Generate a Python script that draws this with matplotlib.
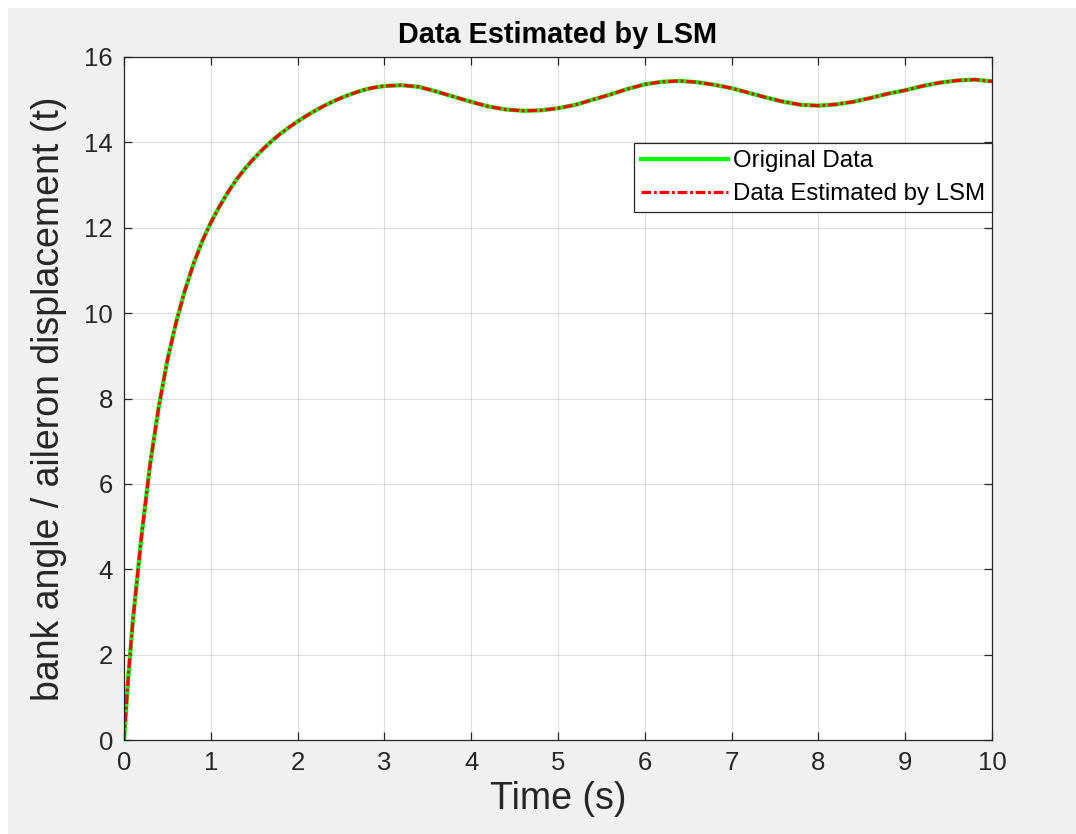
import matplotlib
matplotlib.use("Agg")
import matplotlib.pyplot as plt
from matplotlib.patches import Rectangle

# ==============================
# DATA
# ==============================
t = [0, 0.05, 0.1, 0.2, 0.3, 0.4, 0.5, 0.6, 0.7, 0.8, 0.9, 1.0,
     1.1, 1.2, 1.3, 1.4, 1.5, 1.6, 1.7, 1.8, 1.9, 2.0,
     2.1, 2.2, 2.3, 2.4, 2.5, 2.6, 2.7, 2.8, 2.9, 3.0,
     3.2, 3.4, 3.6, 3.8, 4.0, 4.2, 4.4, 4.6, 4.8, 5.0, 5.2, 5.4, 5.6, 5.8,
     6.0, 6.2, 6.4, 6.6, 6.8, 7.0, 7.2, 7.4, 7.6, 7.8, 8.0, 8.2,
     8.4, 8.6, 8.8, 9.0, 9.2, 9.4, 9.6, 9.8, 10.0]

y_original = [0, 1.5, 2.75, 4.75, 6.45, 7.8, 8.9, 9.78, 10.52, 11.15, 11.68, 12.12,
              12.5, 12.84, 13.14, 13.4, 13.63, 13.84, 14.03, 14.2, 14.35, 14.49,
              14.62, 14.74, 14.85, 14.95, 15.04, 15.12, 15.19, 15.25, 15.29, 15.32,
              15.34, 15.3, 15.19, 15.07, 14.95, 14.84, 14.77, 14.74, 14.75, 14.8, 14.88, 15.0, 15.12, 15.25,
              15.36, 15.42, 15.44, 15.41, 15.35, 15.27, 15.16, 15.05, 14.95, 14.88, 14.86, 14.89,
              14.95, 15.04, 15.14, 15.22, 15.32, 15.4, 15.45, 15.47, 15.43]

# the LSM estimate lies on top of the original curve
y_estimated = [0, 1.5, 2.75, 4.75, 6.45, 7.8, 8.9, 9.78, 10.52, 11.15, 11.68, 12.12,
               12.5, 12.84, 13.14, 13.4, 13.63, 13.84, 14.03, 14.2, 14.35, 14.49,
               14.62, 14.74, 14.85, 14.95, 15.04, 15.12, 15.19, 15.25, 15.29, 15.32,
               15.34, 15.3, 15.19, 15.07, 14.95, 14.84, 14.77, 14.74, 14.75, 14.8, 14.88, 15.0, 15.12, 15.25,
               15.36, 15.42, 15.44, 15.41, 15.35, 15.27, 15.16, 15.05, 14.95, 14.88, 14.86, 14.89,
               14.95, 15.04, 15.14, 15.22, 15.32, 15.4, 15.45, 15.47, 15.43]

x_ticks = list(range(0, 11))
y_ticks = list(range(0, 17, 2))

TITLE = "Data Estimated by LSM"
XLABEL = "Time (s)"
YLABEL = "bank angle / aileron displacement (t)"
LABELS = ["Original Data", "Data Estimated by LSM"]

# ==============================
# STYLE
# ==============================
plt.rcParams["font.family"] = ["Liberation Sans", "DejaVu Sans"]
plt.rcParams["lines.scale_dashes"] = False
TXT = "#262626"

fig = plt.figure(figsize=(10.76, 8.34), dpi=100, facecolor="white")
# grey MATLAB figure area, thin white margin top/left
fig.patches.append(Rectangle((8 / 1076, 0), 1, 1 - 8 / 834, transform=fig.transFigure,
                             facecolor="#f0f0f0", edgecolor="none", zorder=-10))

ax = fig.add_axes([124 / 1076, 1 - 740 / 834, 868 / 1076, 683 / 834])
ax.set_facecolor("white")

ax.plot(t, y_original, color=(0, 1, 0), linewidth=3.0, label=LABELS[0])
ax.plot(t, y_estimated, color=(1, 0, 0), linewidth=2.3, dashes=(7, 2, 2, 2),
        label=LABELS[1])

ax.set_xlim(0, 10)
ax.set_ylim(0, 16)
ax.set_xticks(x_ticks)
ax.set_yticks(y_ticks)
ax.grid(True, color="#262626", alpha=0.15, linewidth=0.8)
ax.set_axisbelow(True)

ax.tick_params(direction="in", length=6, width=0.9, colors=TXT, labelsize=18.5,
               top=True, right=True, pad=8)
for s in ax.spines.values():
    s.set_color(TXT)
    s.set_linewidth(0.9)

ax.set_title(TITLE, fontsize=20.8, fontweight="bold", color="black", pad=10)
ax.set_xlabel(XLABEL, fontsize=27, color=TXT, labelpad=4)
ax.set_ylabel(YLABEL, fontsize=27, color=TXT, labelpad=12)

leg = ax.legend(loc="upper right", bbox_to_anchor=(1.0, (740 - 143) / 683),
                fontsize=17.3, handlelength=3.6, handletextpad=0.2,
                borderpad=0.3, labelspacing=0.45, borderaxespad=0,
                fancybox=False, framealpha=1, edgecolor=TXT)
leg.get_frame().set_linewidth(0.9)

fig.savefig("out.png", dpi=100, facecolor=fig.get_facecolor())
